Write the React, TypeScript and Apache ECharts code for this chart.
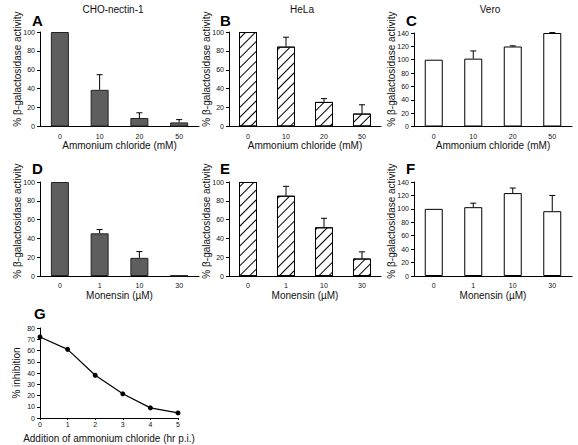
import React, { useEffect, useRef } from "react";
import * as echarts from "echarts";

const ammoniumCats = ["0", "10", "20", "50"];
const monensinCats = ["0", "1", "10", "30"];

const choAmmonium = [100, 38.8, 9, 4.3];
const choAmmoniumErr = [0, 16, 5.5, 3];
const helaAmmonium = [100, 84.5, 26, 13.7];
const helaAmmoniumErr = [0, 10, 3.5, 9.3];
const veroAmmonium = [100, 101.6, 119.8, 140];
const veroAmmoniumErr = [0, 11.5, 1, 0.6];

const choMonensin = [100, 45.4, 19.3, 0.5];
const choMonensinErr = [0, 4, 6.7, 0];
const helaMonensin = [100, 85.4, 51.8, 18.6];
const helaMonensinErr = [0, 10, 9.6, 7.1];
const veroMonensin = [100, 102.5, 123.5, 96.5];
const veroMonensinErr = [0, 6, 7.5, 23.5];

const timeHours = [0, 1, 2, 3, 4, 5];
const inhibition = [72, 61, 38, 21.5, 9, 4.5];

const panelTitles = ["CHO-nectin-1", "HeLa", "Vero"];
const panelLetters = ["A", "B", "C", "D", "E", "F", "G"];

const FONT = "Liberation Sans, Arial, sans-serif";

export default function App() {
  const ref = useRef<HTMLDivElement>(null);
  useEffect(() => {
    if (!ref.current) return;
    const chart = echarts.init(ref.current, undefined, { renderer: "svg" });

    const grids = [
      { left: 40, top: 32, width: 159, height: 94.5 },
      { left: 229, top: 32, width: 152, height: 94.5 },
      { left: 414, top: 33, width: 158, height: 93.5 },
      { left: 40, top: 182, width: 159, height: 94 },
      { left: 229, top: 182, width: 152, height: 94 },
      { left: 414, top: 182, width: 158, height: 94 },
      { left: 40, top: 328, width: 138, height: 90 },
    ];

    const hatchStyle = {
      color: "#fff",
      borderColor: "#000",
      borderWidth: 1,
      decal: {
        symbol: "rect",
        symbolSize: 1,
        dashArrayX: [1, 0],
        dashArrayY: [1, 6],
        rotation: -Math.PI / 4,
        color: "#000",
      },
    };
    const grayStyle = { color: "#5e5e5e", borderColor: "#222", borderWidth: 1 };
    const whiteStyle = { color: "#fff", borderColor: "#000", borderWidth: 1 };

    const panels = [
      { cats: ammoniumCats, vals: choAmmonium, errs: choAmmoniumErr, style: grayStyle, max: 100, name: "Ammonium chloride (mM)" },
      { cats: ammoniumCats, vals: helaAmmonium, errs: helaAmmoniumErr, style: hatchStyle, max: 100, name: "Ammonium chloride (mM)" },
      { cats: ammoniumCats, vals: veroAmmonium, errs: veroAmmoniumErr, style: whiteStyle, max: 140, name: "Ammonium chloride (mM)" },
      { cats: monensinCats, vals: choMonensin, errs: choMonensinErr, style: grayStyle, max: 100, name: "Monensin (\u00b5M)" },
      { cats: monensinCats, vals: helaMonensin, errs: helaMonensinErr, style: hatchStyle, max: 100, name: "Monensin (\u00b5M)" },
      { cats: monensinCats, vals: veroMonensin, errs: veroMonensinErr, style: whiteStyle, max: 140, name: "Monensin (\u00b5M)" },
    ];

    const axisLine = { show: true, lineStyle: { color: "#000", width: 1 } };
    const tickLabel = { fontSize: 7, color: "#111", fontFamily: FONT };

    const xAxis: any[] = [];
    const yAxis: any[] = [];
    const series: any[] = [];

    panels.forEach((p, i) => {
      xAxis.push({
        type: "category",
        gridIndex: i,
        data: p.cats,
        axisLine,
        axisTick: { show: false },
        axisLabel: { ...tickLabel, margin: 6 },
        name: p.name,
        nameLocation: "middle",
        nameGap: 14,
        nameTextStyle: { fontSize: 10, color: "#111", fontFamily: FONT },
      });
      yAxis.push({
        type: "value",
        gridIndex: i,
        min: 0,
        max: p.max,
        interval: 20,
        axisLine,
        axisTick: { show: true, length: 3, lineStyle: { color: "#000" } },
        axisLabel: { ...tickLabel, margin: 5 },
        splitLine: { show: false },
      });
      series.push({
        type: "bar",
        xAxisIndex: i,
        yAxisIndex: i,
        data: p.vals,
        barWidth: 18,
        itemStyle: p.style,
        z: 2,
      });
      series.push({
        type: "custom",
        xAxisIndex: i,
        yAxisIndex: i,
        data: p.vals.map((v, k) => [k, v, v + p.errs[k]]),
        z: 3,
        renderItem: (params: any, api: any) => {
          const k = api.value(0);
          const v = api.value(1);
          const t = api.value(2);
          if (!(t > v)) return null;
          const p0 = api.coord([k, v]);
          const p1 = api.coord([k, t]);
          return {
            type: "group",
            children: [
              { type: "line", shape: { x1: p0[0], y1: p0[1], x2: p1[0], y2: p1[1] }, style: { stroke: "#000", lineWidth: 1 } },
              { type: "line", shape: { x1: p1[0] - 3, y1: p1[1], x2: p1[0] + 3, y2: p1[1] }, style: { stroke: "#000", lineWidth: 1 } },
            ],
          };
        },
      });
    });

    xAxis.push({
      type: "value",
      gridIndex: 6,
      min: 0,
      max: 5,
      interval: 1,
      axisLine,
      axisTick: { show: true, length: 2, lineStyle: { color: "#000" } },
      axisLabel: { ...tickLabel, margin: 3 },
      splitLine: { show: false },
      name: "Addition of ammonium chloride (hr p.i.)",
      nameLocation: "middle",
      nameGap: 15,
      nameTextStyle: { fontSize: 10, color: "#111", fontFamily: FONT },
    });
    yAxis.push({
      type: "value",
      gridIndex: 6,
      min: 0,
      max: 80,
      interval: 10,
      axisLine,
      axisTick: { show: true, length: 3, lineStyle: { color: "#000" } },
      axisLabel: { ...tickLabel, margin: 5 },
      splitLine: { show: false },
    });
    series.push({
      type: "line",
      xAxisIndex: 6,
      yAxisIndex: 6,
      data: timeHours.map((h, k) => [h, inhibition[k]]),
      symbol: "circle",
      symbolSize: 5,
      lineStyle: { color: "#000", width: 1.2 },
      itemStyle: { color: "#000" },
    });

    const letterPos = [
      [32, 20], [220, 20], [406, 20],
      [32, 168], [220, 168], [406, 168],
      [34, 313],
    ];
    const titlePos = [[113, 9], [302, 9], [490, 9]];
    const yLabelPos = [
      [17, 69], [206, 69], [391, 69],
      [17, 221], [206, 221], [391, 221],
    ];

    const graphic: any[] = [];
    panelLetters.forEach((l, i) => {
      graphic.push({
        type: "text",
        x: letterPos[i][0],
        y: letterPos[i][1],
        style: { text: l, fontSize: 15, fontWeight: "bold", fontFamily: FONT, fill: "#000", verticalAlign: "middle" },
      });
    });
    panelTitles.forEach((t, i) => {
      graphic.push({
        type: "text",
        x: titlePos[i][0],
        y: titlePos[i][1],
        style: { text: t, fontSize: 10, fontFamily: FONT, fill: "#111", align: "center", verticalAlign: "middle" },
      });
    });
    yLabelPos.forEach((pos) => {
      graphic.push({
        type: "text",
        x: pos[0],
        y: pos[1],
        rotation: Math.PI / 2,
        style: { text: "% \u03b2-galactosidase activity", fontSize: 10, fontFamily: FONT, fill: "#111", align: "center", verticalAlign: "middle" },
      });
    });
    graphic.push({
      type: "text",
      x: 16,
      y: 373,
      rotation: Math.PI / 2,
      style: { text: "% inhibition", fontSize: 10, fontFamily: FONT, fill: "#111", align: "center", verticalAlign: "middle" },
    });

    chart.setOption({
      animation: false,
      backgroundColor: "#fff",
      textStyle: { fontFamily: FONT },
      grid: grids.map((g) => ({ ...g, containLabel: false })),
      xAxis,
      yAxis,
      series,
      graphic,
    });
    return () => chart.dispose();
  }, []);

  return (
    <div
      ref={ref}
      style={{ position: "fixed", left: 0, top: 0, width: 578, height: 445, background: "#fff" }}
    />
  );
}
